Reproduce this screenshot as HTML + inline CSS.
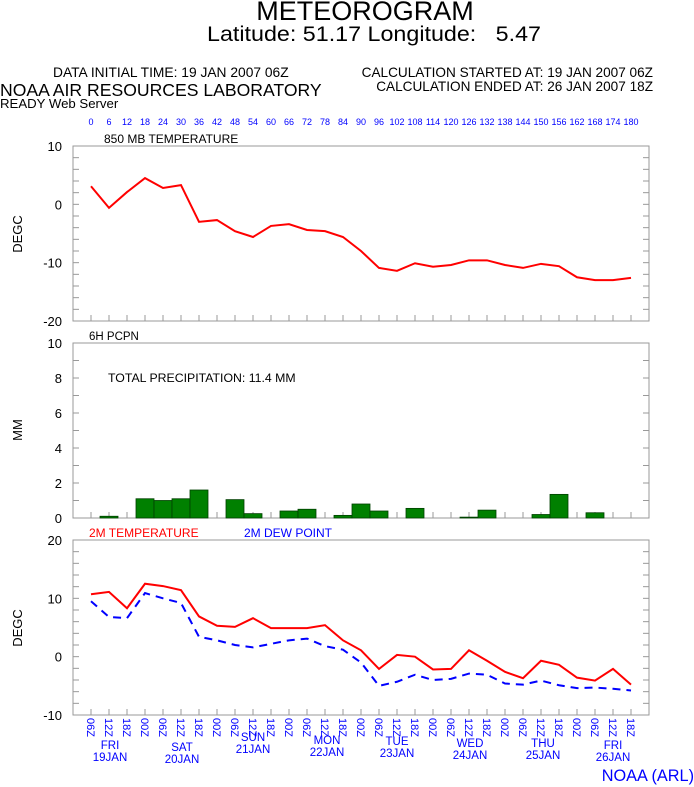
<!DOCTYPE html>
<html><head><meta charset="utf-8"><style>
html,body{margin:0;padding:0;background:#fff}
svg{display:block;font-family:"Liberation Sans",sans-serif}
</style></head><body>
<svg id="chart" width="694" height="787" viewBox="0 0 694 787" xmlns="http://www.w3.org/2000/svg">
<text x="365" y="20" font-size="27" text-anchor="middle">METEOROGRAM</text>
<text x="374" y="41" font-size="21" text-anchor="middle" textLength="334" lengthAdjust="spacingAndGlyphs" xml:space="preserve">Latitude: 51.17 Longitude:   5.47</text>
<text x="53" y="77" font-size="13.8">DATA INITIAL TIME: 19 JAN 2007 06Z</text>
<text x="653" y="77" font-size="13.6" text-anchor="end">CALCULATION STARTED AT: 19 JAN 2007 06Z</text>
<text x="653" y="91" font-size="13.6" text-anchor="end">CALCULATION ENDED AT: 26 JAN 2007 18Z</text>
<text x="0" y="96" font-size="17.6">NOAA AIR RESOURCES LABORATORY</text>
<text x="0" y="108" font-size="13.2">READY Web Server</text>
<text x="694" y="781" font-size="16.3" fill="#00f" text-anchor="end">NOAA (ARL)</text>
<g id="marks"></g>
</svg>
<script>
const hours = [0,6,12,18,24,30,36,42,48,54,60,66,72,78,84,90,96,102,108,114,120,126,132,138,144,150,156,162,168,174,180];
const temp850 = [3.1,-0.6,2.1,4.5,2.8,3.3,-3.0,-2.7,-4.6,-5.6,-3.7,-3.4,-4.4,-4.6,-5.6,-8.0,-10.9,-11.4,-10.1,-10.7,-10.4,-9.6,-9.6,-10.4,-10.9,-10.2,-10.6,-12.5,-13.0,-13.0,-12.6];
const precip = [0,0.1,0,1.1,1.0,1.1,1.6,0,1.05,0.25,0,0.4,0.5,0,0.15,0.8,0.4,0,0.55,0,0,0.05,0.45,0,0,0.2,1.35,0,0.3,0,0];
const temp2m = [10.7,11.1,8.3,12.5,12.1,11.4,6.9,5.3,5.1,6.6,4.9,4.9,4.9,5.4,2.8,1.1,-2.1,0.3,0.0,-2.2,-2.1,1.1,-0.7,-2.6,-3.7,-0.7,-1.4,-3.6,-4.1,-2.1,-4.8];
const dew2m = [9.5,6.8,6.6,10.9,10.0,9.2,3.4,2.8,2.0,1.6,2.2,2.8,3.1,1.8,1.2,-1.0,-5.0,-4.3,-3.1,-4.0,-3.8,-2.9,-3.1,-4.6,-4.8,-4.1,-4.9,-5.4,-5.3,-5.5,-5.8];
const zLabels = ["06Z","12Z","18Z","00Z"];
const dayNames = ["FRI","SAT","SUN","MON","TUE","WED","THU","FRI"];
const dayDates = ["19JAN","20JAN","21JAN","22JAN","23JAN","24JAN","25JAN","26JAN"];
const p1Ticks = [10,0,-10,-20], p2Ticks = [10,8,6,4,2,0], p3Ticks = [20,10,0,-10];

const NS="http://www.w3.org/2000/svg", g=document.getElementById('marks');
function mk(tag,a,parent){const e=document.createElementNS(NS,tag);for(const k in a)e.setAttribute(k,a[k]);(parent||g).appendChild(e);return e;}
const X0=73,X1=649;
const x = h => 91 + (h/180)*540;
function yS(top,bot,vmax,vmin){return v=>top+(vmax-v)/(vmax-vmin)*(bot-top);}
const y1=yS(146,321,10,-20), y2=yS(343,518,10,0), y3=yS(540,715,20,-10);

function frame(name,top,bot,vmax,vmin,step,labels,yf){
  const f=mk('rect',{x:X0,y:top,width:X1-X0,height:bot-top,fill:'none',stroke:'#999','stroke-width':1});
  
  
  for(let v=vmin;v<=vmax+1e-9;v+=step){const yy=yf(v);
    mk('line',{x1:X0,x2:X0+6,y1:yy,y2:yy,stroke:'#999'});
    mk('line',{x1:X1-6,x2:X1,y1:yy,y2:yy,stroke:'#999'});}
  hours.forEach(h=>mk('line',{x1:x(h),x2:x(h),y1:bot,y2:bot-6,stroke:'#999'}));
  labels.forEach(v=>{const t=mk('text',{x:62,y:yf(v)+5,'font-size':13,'text-anchor':'end'});t.textContent=v;
    
    });
}
frame('temp850',146,321,10,-20,2,p1Ticks,y1);
frame('precip',343,518,10,0,1,p2Ticks,y2);
frame('temp2m',540,715,20,-10,2,p3Ticks,y3);

function ylab(txt,yy){const t=mk('text',{x:0,y:0,'font-size':13,'text-anchor':'middle',transform:`translate(22,${yy}) rotate(-90)`});t.textContent=txt;
  
  }
ylab('DEGC',234);ylab('MM',430);ylab('DEGC',628);

function lab(txt,xx,yy,col,name,fs){const t=mk('text',{x:xx,y:yy,'font-size':fs,fill:col});t.textContent=txt;
  
  }
lab('850 MB  TEMPERATURE',104,143,'#000','panel1-title',12);
lab('6H PCPN',89,340,'#000','panel2-title',11.5);
lab('TOTAL PRECIPITATION:  11.4 MM',108,382,'#000','total-precip',12.3);
lab('2M TEMPERATURE',89,537,'#f00','legend-temperature',12);
lab('2M   DEW POINT',244,537,'#00f','legend-dewpoint',12);

hours.forEach(h=>{const t=mk('text',{x:x(h),y:125,'font-size':9,fill:'#00f','text-anchor':'middle'});t.textContent=h;
  
  });

precip.forEach((v,i)=>{if(v<=0)return;const yy=y2(v);
  const r=mk('rect',{x:x(hours[i])-9,y:yy,width:18,height:518-yy,fill:'#008000',stroke:'#004000','stroke-width':0.8});
  
  });

function line(arr,yf,col,dash,name){const p=mk('polyline',{points:arr.map((v,i)=>x(hours[i])+','+yf(v)).join(' '),fill:'none',stroke:col,'stroke-width':2,'stroke-dasharray':dash||'none'});
  
  }
line(temp850,y1,'#f00',null,'temp850-line');
line(dew2m,y3,'#00f','8,6','dewpoint-line');
line(temp2m,y3,'#f00',null,'temp2m-line');

hours.forEach((h,i)=>{const t=mk('text',{x:0,y:0,'font-size':11,fill:'#00f',transform:`translate(${x(h)-4},718) rotate(90)`});t.textContent=zLabels[i%4];
  
  });
const dayX=[110,182,253,327,397,470,543,613], dayY=[749,751,741,744,745,747,747,749];
dayNames.forEach((d,i)=>{
  const a=mk('text',{x:dayX[i],y:dayY[i],'font-size':11.5,fill:'#00f','text-anchor':'middle'});a.textContent=d;
  
  
  const b=mk('text',{x:dayX[i],y:dayY[i]+12,'font-size':11.5,fill:'#00f','text-anchor':'middle'});b.textContent=dayDates[i];
  
  });
</script>
</body></html>
